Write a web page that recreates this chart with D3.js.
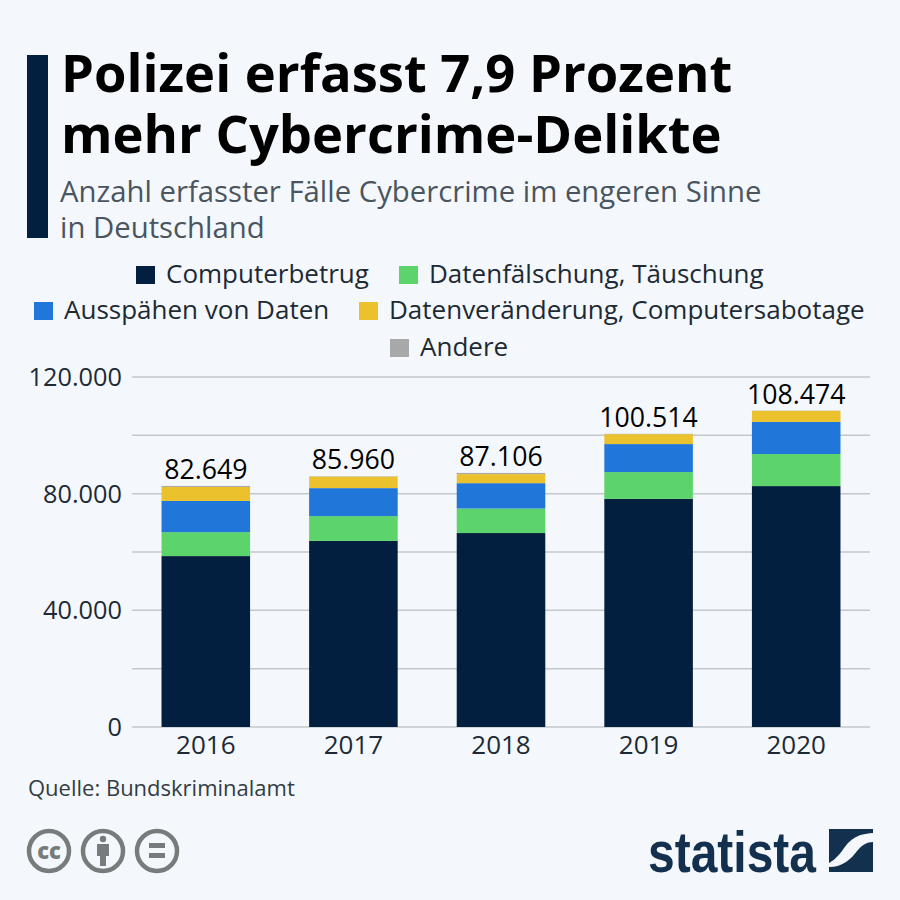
<!DOCTYPE html>
<html>
<head>
<meta charset="utf-8">
<script src="https://cdn.jsdelivr.net/npm/d3@7"></script>
<style>
  html, body { margin: 0; padding: 0; background: #f4f8fc; }
  svg { display: block; font-family: "Open Sans", sans-serif; }
</style>
</head>
<body>
<svg id="chart" width="900" height="900"></svg>
<script>
// Cybercrime cases per year, stacked by type.
const years = ["2016", "2017", "2018", "2019", "2020"];
const seriesNames = ["Computerbetrug", "Datenfälschung, Täuschung", "Ausspähen von Daten", "Datenveränderung, Computersabotage", "Andere"];
const computerbetrug = [58600, 63800, 66500, 78200, 82600];
const datenfaelschung = [8200, 8500, 8400, 9200, 11000];
const ausspaehen = [10700, 9600, 8700, 9600, 11000];
const datenveraenderung = [4800, 3950, 3100, 3400, 3800];
const andere = [349, 110, 406, 114, 74];
const totals = [82649, 85960, 87106, 100514, 108474];
const yTicks = [0, 40000, 80000, 120000];
const yGrid = [0, 20000, 40000, 60000, 80000, 100000, 120000];

const colors = ["#031f3f", "#5dd36b", "#2176d9", "#ebc12d", "#a8a8a8"];
const ink = "#000000";
const fmt = d3.format(",");
const deNum = (v) => fmt(v).replace(/,/g, ".");

const svg = d3.select("#chart");

// ---- header ----
svg.append("rect").attr("x", 27).attr("y", 55).attr("width", 21).attr("height", 183).attr("fill", "#031f3f");
[["Polizei erfasst 7,9 Prozent", 92], ["mehr Cybercrime-Delikte", 153]].forEach(([t, y]) => {
  svg.append("text").attr("x", 61).attr("y", y).attr("font-size", 52.5).attr("font-weight", 700).attr("fill", ink).text(t);
});
[["Anzahl erfasster Fälle Cybercrime im engeren Sinne", 202], ["in Deutschland", 238]].forEach(([t, y]) => {
  svg.append("text").attr("x", 60).attr("y", y).attr("font-size", 29.3).attr("fill", "#4a5560").text(t);
});

// ---- legend ----
const legendPos = [[136, 283], [399, 283], [34, 319], [359, 319], [390, 356]];
seriesNames.forEach((name, i) => {
  const [lx, ly] = legendPos[i];
  svg.append("rect").attr("x", lx).attr("y", ly - 17).attr("width", 19).attr("height", 18).attr("fill", colors[i]);
  svg.append("text").attr("x", lx + 30).attr("y", ly).attr("font-size", 26).attr("fill", "#1d2a35").text(name);
});

// ---- plot ----
const y = d3.scaleLinear().domain([0, 120000]).range([727, 377]);
const x = d3.scaleBand().domain(years).range([132, 870]).paddingInner(0.4).paddingOuter(0.2);

svg.append("g").selectAll("line").data(yGrid).join("line")
  .attr("x1", 132).attr("x2", 870)
  .attr("y1", (d) => y(d)).attr("y2", (d) => y(d))
  .attr("stroke", "#c3c8cd").attr("stroke-width", 1.5);

const rows = years.map((yr, i) => ({
  year: yr, s0: computerbetrug[i], s1: datenfaelschung[i], s2: ausspaehen[i], s3: datenveraenderung[i], s4: andere[i],
}));
const stacked = d3.stack().keys(["s0", "s1", "s2", "s3", "s4"])(rows);

svg.append("g").selectAll("g").data(stacked).join("g")
  .attr("fill", (d, i) => colors[i])
  .selectAll("rect").data((d) => d).join("rect")
  .attr("x", (d) => x(d.data.year))
  .attr("width", x.bandwidth())
  .attr("y", (d) => y(d[1]))
  .attr("height", (d) => y(d[0]) - y(d[1]));

svg.append("g").selectAll("text").data(years).join("text")
  .attr("x", (d) => x(d) + x.bandwidth() / 2)
  .attr("y", (d, i) => y(totals[i]) - 7)
  .attr("text-anchor", "middle").attr("font-size", 26.7).attr("font-weight", 500).attr("fill", ink)
  .text((d, i) => deNum(totals[i]));

svg.append("g").selectAll("text").data(yTicks).join("text")
  .attr("x", 122).attr("y", (d) => y(d) + 9)
  .attr("text-anchor", "end").attr("font-size", 25.3).attr("fill", "#1d2a35")
  .text((d) => deNum(d));

svg.append("g").selectAll("text").data(years).join("text")
  .attr("x", (d) => x(d) + x.bandwidth() / 2).attr("y", 754)
  .attr("text-anchor", "middle").attr("font-size", 26).attr("fill", "#1d2a35")
  .text((d) => d);

// ---- footer ----
svg.append("text").attr("x", 28).attr("y", 796).attr("font-size", 22).attr("fill", "#333c44").text("Quelle: Bundskriminalamt");

const iconGrey = "#767b7b";
const icons = svg.append("g").attr("fill", "none").attr("stroke", iconGrey).attr("stroke-width", 4.5);
[49, 103, 157].forEach((cx) => icons.append("circle").attr("cx", cx).attr("cy", 851).attr("r", 20));
svg.append("text").attr("x", 49).attr("y", 859).attr("text-anchor", "middle")
  .attr("font-size", 22).attr("font-weight", 800).attr("fill", iconGrey).text("cc");
svg.append("circle").attr("cx", 103).attr("cy", 839).attr("r", 3.2).attr("fill", iconGrey);
svg.append("path").attr("fill", iconGrey).attr("d", "M97 844h12v12h-3v10h-6v-10h-3z");
svg.append("rect").attr("x", 149).attr("y", 843).attr("width", 16).attr("height", 5).attr("fill", iconGrey);
svg.append("rect").attr("x", 149).attr("y", 853).attr("width", 16).attr("height", 5).attr("fill", iconGrey);

// statista wordmark + wave icon
svg.append("text").attr("x", 648).attr("y", 872)
  .attr("font-family", "'Liberation Sans Narrow', 'Liberation Sans', sans-serif")
  .attr("font-size", 58).attr("font-weight", 700).attr("fill", "#14304f")
  .attr("textLength", 168).attr("lengthAdjust", "spacingAndGlyphs").text("statista");
svg.append("path").attr("fill", "#14304f")
  .attr("d", "M829 829H873V833C855 834 849 841 842 851C836 859 831 862 829 863Z");
svg.append("path").attr("fill", "#14304f")
  .attr("d", "M873 842V872H829V867C843 867 851 859 857 851C862 845 867 842 873 842Z");
</script>
</body>
</html>
